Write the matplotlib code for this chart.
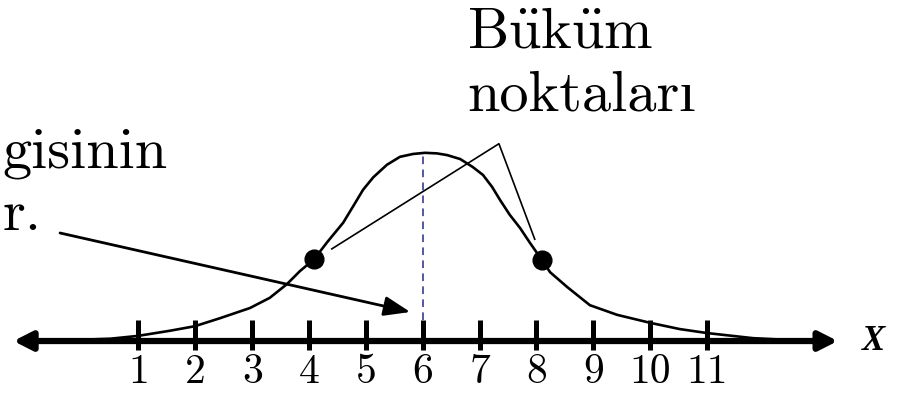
import matplotlib as mpl
import matplotlib.pyplot as plt

# bell curve (x in axis units, y in same units above the line)
curve_x = [-0.08, 0.50, 0.99, 1.55, 1.99, 2.43, 2.96, 3.31, 3.61, 3.84, 4.09, 4.32,
           4.60, 4.77, 4.95, 5.13, 5.37, 5.60, 5.83, 6.04, 6.25, 6.43, 6.66, 6.88,
           7.06, 7.22, 7.36, 7.53, 7.71, 7.89, 8.10, 8.24, 8.54, 8.94, 9.42, 10.0,
           10.52, 11.0, 11.81, 12.41]
curve_y = [0.02, 0.04, 0.09, 0.18, 0.26, 0.40, 0.58, 0.76, 1.00, 1.23, 1.44, 1.74,
           2.08, 2.36, 2.66, 2.88, 3.10, 3.24, 3.29, 3.31, 3.30, 3.27, 3.20, 3.06,
           2.92, 2.71, 2.48, 2.22, 1.99, 1.72, 1.42, 1.21, 0.95, 0.63, 0.46, 0.32,
           0.21, 0.14, 0.05, 0.02]

ticks = [1, 2, 3, 4, 5, 6, 7, 8, 9, 10, 11]
tick_labels = [str(t) for t in ticks]
mean = 6
peak = 3.31
infl_x = [4.09, 8.10]
infl_y = [1.44, 1.42]


def main():
    mpl.rcParams['font.family'] = ['cmr10', 'Liberation Serif', 'DejaVu Serif']
    mpl.rcParams['axes.unicode_minus'] = False
    mpl.rcParams['mathtext.fontset'] = 'cm'

    fig = plt.figure(figsize=(8.99, 3.94), dpi=100)
    ax = fig.add_axes([0, 0, 1, 1])
    ax.set_xlim(-1.436, 14.377)
    ax.set_ylim(-0.932, 5.998)
    ax.axis('off')

    # number line with arrows on both ends
    ax.annotate('', xy=(13.3, 0), xytext=(-1.2, 0),
                arrowprops=dict(arrowstyle='<|-|>,head_length=0.55,head_width=0.28',
                                lw=4.5, color='black', mutation_scale=20,
                                shrinkA=0, shrinkB=0))
    ax.vlines(ticks, -0.16, 0.37, color='black', lw=3.6)
    for t, lab in zip(ticks, tick_labels):
        ax.text(t, -0.55, lab, ha='center', va='center', fontsize=30)
    ax.text(13.72, 0.0, 'X', ha='left', va='center', fontsize=25,
            family='Liberation Serif', style='italic', weight='bold')

    ax.plot(curve_x, curve_y, color='black', lw=1.9,
            solid_joinstyle='round', solid_capstyle='round')
    ax.plot([mean, mean], [0.37, peak], color='#2a2a88', lw=1.1, ls=(0, (5, 3.5)))
    ax.plot(infl_x, infl_y, 'o', color='black', ms=13.5)

    # pointer lines to the inflection points
    ax.plot([4.40, 7.34, 7.97], [1.62, 3.47, 1.79], color='black', lw=1.2)
    ax.text(6.78, 5.17, r'B$\ddot{\mathrm{u}}$k$\ddot{\mathrm{u}}$m',
            ha='left', va='baseline', fontsize=42)
    ax.text(6.78, 4.06, 'noktaları', ha='left', va='baseline', fontsize=42)

    ax.text(-1.40, 3.06, 'gisinin', ha='left', va='baseline', fontsize=42)
    ax.text(-1.40, 1.95, 'r.', ha='left', va='baseline', fontsize=42)
    ax.annotate('', xy=(5.78, 0.51), xytext=(-0.38, 1.90),
                arrowprops=dict(arrowstyle='-|>,head_length=0.8,head_width=0.3',
                                lw=2.0, color='black', mutation_scale=20,
                                shrinkA=0, shrinkB=0))

    fig.savefig('out.png', dpi=100)


if __name__ == "__main__":
    main()
